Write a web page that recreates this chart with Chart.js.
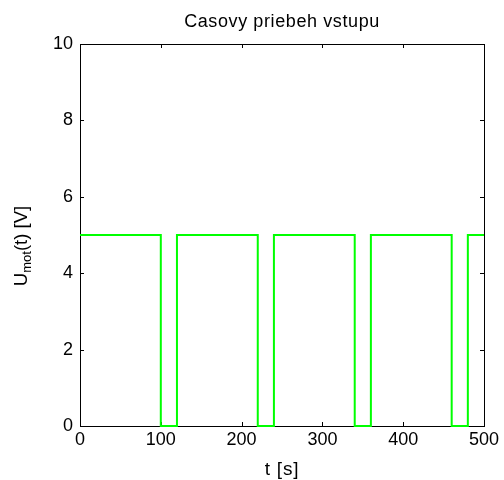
<!DOCTYPE html>
<html>
<head>
<meta charset="utf-8">
<script src="https://cdn.jsdelivr.net/npm/chart.js@4.4.0/dist/chart.umd.min.js"></script>
<style>
  html, body { margin: 0; padding: 0; background: #fff; }
</style>
</head>
<body>
<canvas id="graf" width="504" height="480"></canvas>
<script>
// casy prechodov a napatie (schodovity priebeh)
const casy = [0, 100, 120, 220, 240, 340, 360, 460, 480, 500];
const napatie = [5, 0, 5, 0, 5, 0, 5, 0, 5, 5];
const xRozsah = [0, 500];
const yRozsah = [0, 10];
const xKrok = 100;
const yKrok = 2;
const nadpis = 'Casovy priebeh vstupu';
const popisX = 't [s]';
const popisY = ['U', 'mot', '(t) [V]'];

const pismo = '"Liberation Sans", Arial, sans-serif';

// ramik + ticky dovnutra ako v matlabe
const matlabStyl = {
  id: 'matlabStyl',
  beforeDatasetsDraw(chart) {
    const { ctx, chartArea: a, scales: { x, y } } = chart;
    ctx.save();
    ctx.strokeStyle = '#000';
    ctx.lineWidth = 1;
    ctx.strokeRect(Math.round(a.left) + 0.5, Math.round(a.top) + 0.5,
      Math.round(a.right - a.left), Math.round(a.bottom - a.top));
    ctx.beginPath();
    x.ticks.forEach(t => {
      const px = Math.round(x.getPixelForValue(t.value)) + 0.5;
      ctx.moveTo(px, a.bottom); ctx.lineTo(px, a.bottom - 4);
      ctx.moveTo(px, a.top); ctx.lineTo(px, a.top + 4);
    });
    y.ticks.forEach(t => {
      const py = Math.round(y.getPixelForValue(t.value)) + 0.5;
      ctx.moveTo(a.left, py); ctx.lineTo(a.left + 4, py);
      ctx.moveTo(a.right, py); ctx.lineTo(a.right - 4, py);
    });
    ctx.stroke();
    ctx.restore();
  },
  afterDraw(chart) {
    const { ctx, chartArea: a } = chart;
    const stred = (a.left + a.right) / 2;
    ctx.save();
    ctx.fillStyle = '#000';
    ctx.textAlign = 'center';
    ctx.textBaseline = 'alphabetic';
    ctx.font = '18px ' + pismo;
    ctx.letterSpacing = '0.6px';
    ctx.fillText(nadpis, stred, 27);
    ctx.letterSpacing = '0.8px';
    ctx.font = '19px ' + pismo;
    ctx.fillText(popisX, stred, 475);
    ctx.letterSpacing = '0px';

    // y popis so subskriptom
    const velke = '18.5px ' + pismo, male = '13px ' + pismo;
    ctx.font = velke;
    const w1 = ctx.measureText(popisY[0]).width;
    const w3 = ctx.measureText(popisY[2]).width;
    ctx.font = male;
    const w2 = ctx.measureText(popisY[1]).width;
    const spolu = w1 + w2 + w3;
    ctx.translate(27, 246);
    ctx.rotate(-Math.PI / 2);
    ctx.textAlign = 'left';
    let px = -spolu / 2;
    ctx.font = velke;
    ctx.fillText(popisY[0], px, 0);
    px += w1;
    ctx.font = male;
    ctx.fillText(popisY[1], px, 4);
    px += w2;
    ctx.font = velke;
    ctx.fillText(popisY[2], px, 0);
    ctx.restore();
  }
};

const body = casy.map((c, i) => ({ x: c, y: napatie[i] }));

new Chart(document.getElementById('graf'), {
  type: 'line',
  data: {
    datasets: [{
      data: body,
      borderColor: '#00ff00',
      borderWidth: 2,
      pointRadius: 0,
      fill: false,
      stepped: 'before',
      clip: 4
    }]
  },
  options: {
    responsive: false,
    animation: false,
    devicePixelRatio: 1,
    layout: { padding: { top: 44, right: 20, left: 0, bottom: 0 } },
    plugins: { legend: { display: false }, tooltip: { enabled: false }, title: { display: false } },
    scales: {
      x: {
        type: 'linear',
        min: xRozsah[0], max: xRozsah[1],
        grid: { display: false, drawTicks: false },
        border: { display: false },
        ticks: { stepSize: xKrok, color: '#000', padding: 3, font: { family: pismo, size: 18 }, maxRotation: 0 },
        afterFit: s => { s.height = 54; }
      },
      y: {
        min: yRozsah[0], max: yRozsah[1],
        grid: { display: false, drawTicks: false },
        border: { display: false },
        ticks: { stepSize: yKrok, color: '#000', padding: 7, font: { family: pismo, size: 18 } },
        afterFit: s => { s.width = 80; }
      }
    }
  },
  plugins: [matlabStyl]
});
</script>
</body>
</html>
